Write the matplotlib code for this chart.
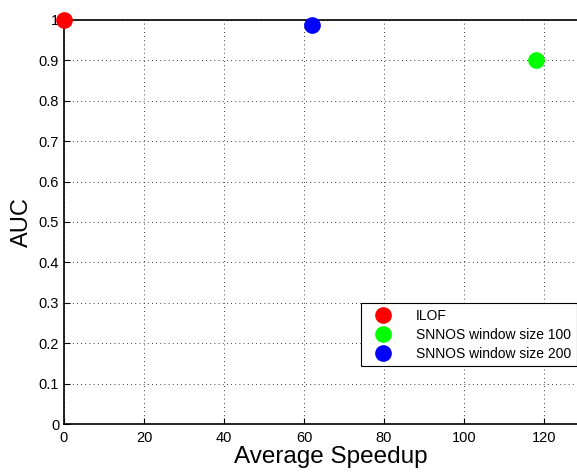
import matplotlib.pyplot as plt

plt.rcParams['font.family'] = ['Liberation Sans', 'DejaVu Sans']

labels = ["ILOF", "SNNOS window size 100", "SNNOS window size 200"]
speedup = [0, 118, 62]
auc = [1.0, 0.9, 0.988]
colors = ["#ff0000", "#00ff00", "#0000ff"]

fig = plt.figure(figsize=(5.77, 4.74), dpi=100)
ax = fig.add_axes([64/577, 50/474, 1 - 64/577, 404/474])

for x, y, c, lab in zip(speedup, auc, colors, labels):
    ax.plot(x, y, "o", color=c, markersize=11, label=lab, clip_on=False, zorder=5)

ax.set_xlim(0, 128.25)
ax.set_ylim(0, 1)
ax.set_xticks(range(0, 121, 20))
ax.set_yticks([i / 10 for i in range(11)])
ax.set_yticklabels(["0"] + ["%.1f" % (i / 10) for i in range(1, 10)] + ["1"])
ax.grid(True, linestyle=(0, (1, 4)), color="black", linewidth=0.6)
ax.tick_params(direction="in", labelsize=10.5, length=4)
ax.tick_params(axis="x", pad=5)
ax.spines["right"].set_visible(False)
for s in ["top", "bottom", "left"]:
    ax.spines[s].set_linewidth(1.2)

ax.set_xlabel("Average Speedup", fontsize=17.5)
ax.xaxis.set_label_coords(0.52, -0.055)
ax.set_ylabel("AUC", fontsize=17, labelpad=4)

leg = ax.legend(loc="lower right", bbox_to_anchor=(1.0, 0.143), borderaxespad=0,
                fontsize=10, fancybox=False, framealpha=1, edgecolor="black",
                borderpad=0.4, labelspacing=0.35, handletextpad=1.2,
                handlelength=2.4, markerscale=1.0)
leg.get_frame().set_linewidth(0.8)

fig.savefig("out.png", dpi=100)
